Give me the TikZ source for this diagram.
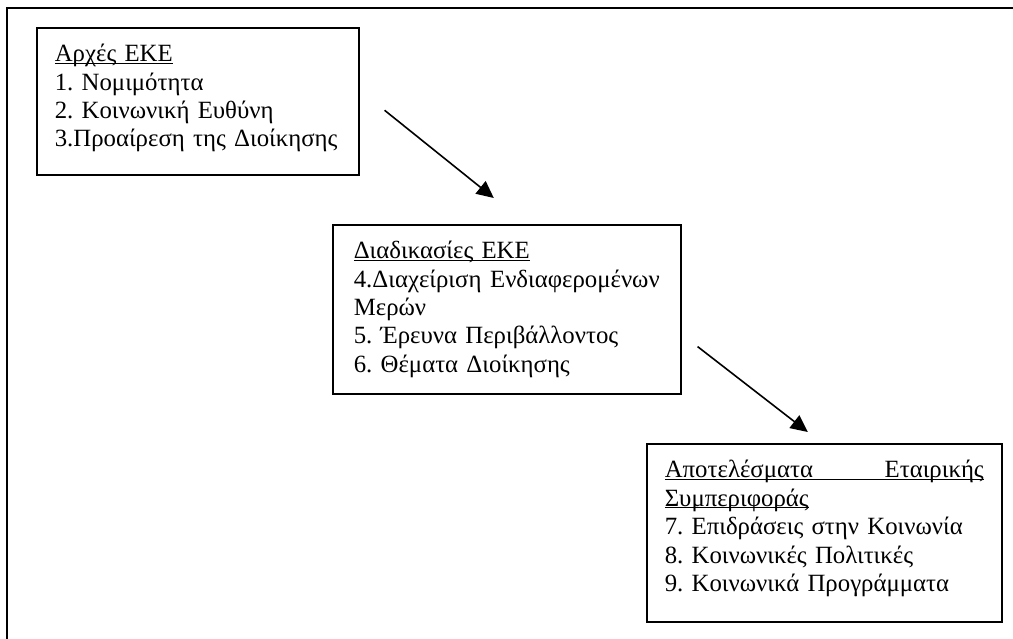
\documentclass[tikz,border=0pt]{standalone}
\usepackage{fontspec}
\setmainfont{Liberation Serif}
\usetikzlibrary{arrows.meta,positioning}
\newcommand{\ulhead}[1]{\underline{\smash{#1}}}

\begin{document}
\begin{tikzpicture}[x=1pt, y=-1pt,
  stagebox/.style={rectangle, draw, line width=1.6pt, anchor=north west,
                   inner xsep=18pt, inner ysep=0pt, align=left,
                   text height=34pt,
                   font=\fontsize{24.8}{28.4}\selectfont\frenchspacing},
  arr/.style={-{Triangle[length=17pt,width=16pt]}, line width=1.6pt}
]
\useasboundingbox (0,0) rectangle (1013,639);
% outer frame (only top and left edges show)
\draw[line width=2pt] (1013,8) -- (7,8) -- (7,639);

% Stage 1
\node[stagebox, text width=286pt, text depth=113pt] (principles) at (36,27)
  {\ulhead{Αρχές ΕΚΕ}\\
   1. Νομιμότητα\\
   2. Κοινωνική Ευθύνη\\
   3.Προαίρεση της Διοίκησης};

% Stage 2
\node[stagebox, text width=306pt, inner xsep=21pt, text depth=135pt] (processes) at (332,224)
  {\ulhead{Διαδικασίες ΕΚΕ}\\
   \makebox[\linewidth][l]{4.Διαχείριση\hfill Ενδιαφερομένων}\\
   Μερών\\
   5. Έρευνα Περιβάλλοντος\\
   6. Θέματα Διοίκησης};

% Stage 3
\node[stagebox, text width=319pt, text depth=144pt] (outcomes) at (646,443)
  {\ulhead{\makebox[\linewidth][l]{Αποτελέσματα\hfill Εταιρικής}}\\
   \ulhead{Συμπεριφοράς}\\
   7. Επιδράσεις στην Κοινωνία\\
   8. Κοινωνικές Πολιτικές\\
   9. Κοινωνικά Προγράμματα};

% Arrows
\draw[arr] ([shift={(25,9)}]principles.east) -- ([shift={(-13,-26)}]processes.north);
\draw[arr] ([shift={(16,-48)}]processes.south east) -- ([shift={(-16.5,-11)}]outcomes.north);
\end{tikzpicture}
\end{document}
